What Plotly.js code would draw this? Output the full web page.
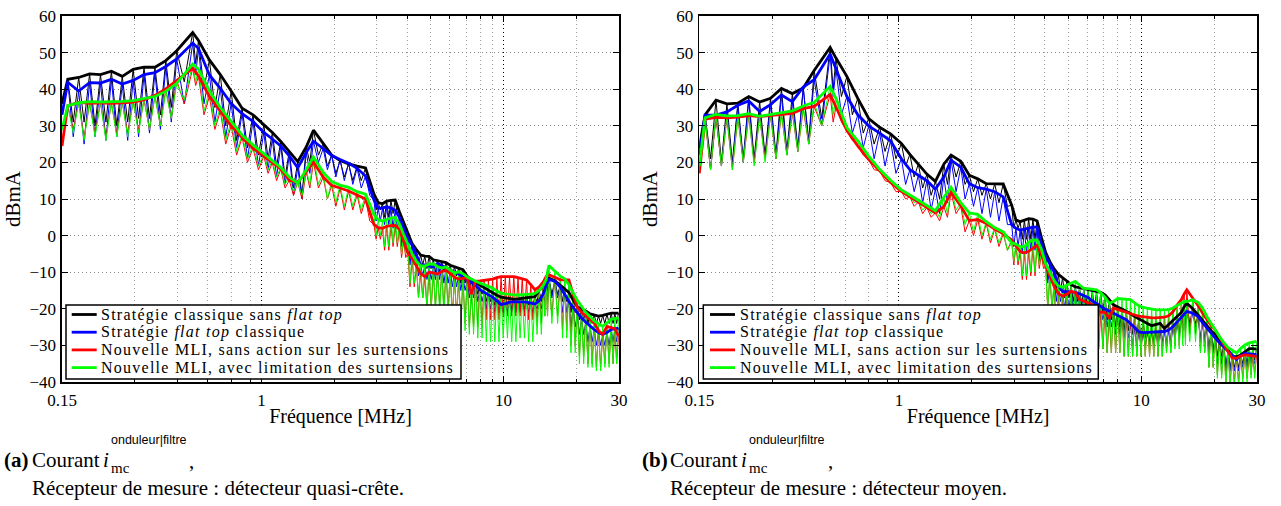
<!DOCTYPE html>
<html>
<head>
<meta charset="utf-8">
<script src="https://cdn.plot.ly/plotly-3.0.1.min.js"></script>
<style>html,body{margin:0;padding:0;background:#fff;}#chart{width:1281px;height:506px;}</style>
</head>
<body>
<div id="chart"></div>
<script>
// ---------- Frequencies (MHz) of comb maxima and minima (shared receiver sweep) ----------
const FREQ_PEAK = [0.1585,0.1758,0.195,0.2163,0.2399,0.2661,0.2951,0.3273,0.3631,0.4027,
  0.4467,0.52,0.5495,0.6095,0.6761,0.7499,0.8318,0.9226,1.023,1.109,
  1.202,1.303,1.413,1.531,1.64,1.799,1.95,2.113,2.291,2.483,2.692,
  2.917,3.037,3.162,3.292,3.428,3.569,3.715,3.868,4.027,4.193,4.365,4.545,4.732,4.926,5.129,5.339,5.559,5.788,6.026,
  6.273,6.531,6.8,7.079,7.371,7.674,7.989,8.318,8.66,9.016,9.387,9.772,10.17,10.59,11.03,11.48,11.95,12.45,12.96,13.49,
  14.04,14.62,15.0,15.4,16.3,17.18,17.89,18.62,19.39,20.18,21.01,21.88,22.78,23.71,24.69,25.7,26.76,27.86,28.84,29.85];
const FREQ_DIP = [0.15,0.1669,0.1851,0.2054,0.2278,0.2526,0.2802,0.3108,0.3447,0.3825,
  0.4242,0.48,0.535,0.5788,0.6421,0.712,0.7898,0.876,0.9716,1.065,
  1.155,1.252,1.357,1.471,1.585,1.72,1.873,2.03,2.2,2.385,2.585,2.802,
  2.976,3.099,3.226,3.359,3.498,3.641,3.791,3.947,4.109,4.278,4.454,4.638,4.828,5.027,5.233,5.448,5.672,5.906,
  6.148,6.401,6.664,6.938,7.224,7.521,7.83,8.152,8.488,8.836,9.2,9.577,9.969,10.38,10.81,11.25,11.71,12.2,12.7,13.22,
  13.76,14.33,14.81,15.2,15.84,16.73,17.53,18.25,19.0,19.78,20.59,21.44,22.33,23.24,24.19,25.19,26.22,27.3,28.35,29.34];

// ---------- (a) quasi-peak detector, dBmA (comb maxima / minima) ----------
const A_BLACK_PEAK = [42.7,43.2,44.2,44.0,44.9,43.5,45.4,46.0,46.0,47.8,50.5,55.5,53.3,48.0,44.0,39.5,34.8,33.0,30.3,28.2,25.7,23.1,20.2,24.2,28.8,25.2,22.0,20.5,19.6,19.0,18.5,
  11.3,9.0,8.7,9.4,9.6,9.7,6.5,3.5,0.8,-2.2,-3.8,-5.3,-5.6,-5.7,-6.6,-6.8,-7.0,-7.4,-8.1,-8.5,-8.8,-9.3,-11.1,-12.1,-12.8,-13.5,-14.3,-15.0,-15.7,-16.3,
  -16.8,-17.0,-17.2,-17.4,-17.3,-17.2,-17.1,-16.9,-16.7,-15.0,-13.5,-12.0,-11.6,-12.3,-13.5,-14.4,-15.5,-17.6,-19.4,-20.1,-20.6,-21.4,-21.7,-22.0,-21.8,-21.4,-21.2,-21.2,-21.2];
const A_BLACK_DIP = [36,31,31,30,31,30,31,32,32,33,35,42,47,40,35,30,26,24,22,21,19,16,13,11,20,22,19,17,16,15,15,13,
  7,7,5,5,6,6,-2,-2,-6,-6,-8,-8,-9,-9,-10,-10,-10,-10,-11,-11,-13,-13,-15,-15,-16,-16,-18,-18,
  -19,-19,-19,-19,-20,-20,-20,-20,-19,-19,-18,-18,-15,-15,-16,-16,-18,-18,-21,-21,-23,-23,-24,-24,-24,-24,-24,-24,-24,-24];
const A_BLUE_PEAK = [41.9,39.5,41.8,41.7,42.7,41.4,42.4,44.0,44.5,46.2,48.3,52.6,51.1,43.9,40.2,36.1,33.3,31.2,28.2,26.4,24.5,21.8,18.5,22.7,25.8,23.8,21.9,20.8,19.8,18.4,16.3,
  9.7,7.5,7.5,7.9,7.5,7.0,5.0,2.0,-0.8,-2.6,-5.2,-8.0,-8.0,-8.4,-8.6,-7.6,-8.1,-8.8,-9.4,-9.9,-10.5,-11.2,-12.2,-12.8,-13.6,-14.8,-15.6,-16.2,-16.8,-17.8,
  -18.8,-18.6,-18.2,-18.1,-18.0,-18.1,-18.2,-18.4,-18.7,-17.8,-15.9,-13.5,-12.0,-12.5,-14.1,-16.0,-18.0,-19.6,-21.2,-22.5,-23.7,-24.8,-25.7,-26.5,-27.0,-26.5,-25.6,-25.5,-25.3];
const A_BLUE_DIP = [33,27,25,27,26,27,26,27,28,29,31,36,44,36,31,27,24,21,19,18,16,14,11,10,17,20,18,16,15,14,13,11,
  4,4,3,3,2,2,-3,-3,-8,-8,-11,-11,-12,-12,-12,-12,-13,-13,-14,-14,-15,-15,-17,-17,-18,-18,-20,-20,
  -21,-21,-21,-21,-21,-21,-21,-21,-21,-21,-20,-20,-18,-18,-17,-17,-21,-21,-25,-25,-27,-27,-29,-29,-30,-30,-30,-30,-29,-29];
const A_RED_PEAK = [35.5,36.4,36.1,36.3,36.1,36.3,36.5,37.1,38.3,40.1,42.4,45.7,43.6,38.0,34.0,30.0,26.8,23.9,21.7,19.9,18.2,15.1,14.6,17.4,20.1,16.0,13.7,13.0,12.2,11.1,10.0,
  3.0,2.2,2.0,2.5,2.7,2.8,1.7,-1.5,-4.8,-6.2,-8.3,-10.4,-11.2,-10.0,-10.2,-10.5,-9.8,-9.5,-10.4,-11.4,-11.9,-11.7,-11.5,-16.0,-12.5,-12.4,-12.3,-12.1,-11.9,-11.5,
  -11.2,-11.2,-11.2,-11.2,-11.5,-11.8,-12.1,-13.4,-14.8,-14.0,-12.6,-11.2,-10.7,-11.4,-12.1,-12.1,-12.1,-16.0,-19.6,-21.0,-22.0,-22.8,-23.8,-26.0,-27.0,-24.8,-25.1,-25.4,-27.5];
const A_RED_DIP = [24.5,29,27,28,27,28,28,29,29,30,32,36,41,33,29,25,22,20,18,17,15,13,11,10,13,13,10,8,7,7,6,4,
  -1,-1,-4,-4,-3,-3,-6,-6,-14,-14,-17,-17,-20,-20,-19,-19,-20,-20,-22,-22,-24,-24,-25,-25,-25,-25,-23,-23,
  -23,-23,-22,-22,-22,-22,-22,-22,-23,-23,-24,-24,-22,-22,-22,-22,-26,-26,-30,-30,-33,-33,-35,-35,-36,-36,-35,-35,-35,-35];
const A_GREEN_PEAK = [35.5,36.3,36.6,36.5,36.5,36.7,36.9,37.5,38.0,39.4,41.6,46.9,45.5,39.6,35.0,31.2,27.5,24.8,22.4,20.5,18.6,16.0,14.3,18.0,21.5,17.3,14.8,13.8,13.2,12.0,11.3,
  5.8,4.3,4.0,4.5,4.8,5.0,3.2,0.3,-2.6,-5.0,-7.0,-8.3,-8.3,-7.8,-7.7,-8.5,-8.8,-8.6,-9.4,-10.2,-9.9,-10.4,-11.3,-11.9,-12.4,-13.0,-13.4,-13.8,-14.3,-15.1,
  -15.7,-15.9,-16.1,-16.2,-16.2,-16.2,-16.2,-16.0,-15.8,-15.0,-13.5,-12.0,-8.2,-9.7,-11.1,-11.8,-13.4,-15.6,-17.7,-19.3,-21.0,-22.1,-23.3,-24.1,-24.8,-23.8,-22.9,-22.7,-22.5];
const A_GREEN_DIP = [29,28,26,27,26,27,27,28,29,30,32,37,42,34,30,26,23,21,19,18,16,14,12,11,14,14,10,9,8,8,7,6,
  0,0,-3,-3,-2,-2,-5,-5,-13,-13,-17,-17,-20,-20,-21,-21,-22,-22,-24,-24,-26,-26,-27,-27,-28,-28,-29,-29,
  -29,-29,-28,-28,-29,-29,-28,-28,-29,-29,-27,-27,-22,-22,-24,-24,-28,-28,-32,-32,-35,-35,-36,-36,-37,-37,-36,-36,-35,-35];

// ---------- (b) average detector, dBmA (comb maxima / minima) ----------
const B_BLACK_PEAK = [33.0,37.0,36.0,36.2,38.0,36.5,37.5,40.2,38.8,40.3,45.1,51.4,48.5,43.5,37.5,32.0,29.6,27.8,25.2,22.2,19.6,16.8,14.8,19.5,22.0,20.3,16.5,15.5,14.2,14.1,14.1,
  8.3,4.3,3.8,4.2,4.6,4.5,4.0,-0.5,-4.6,-7.1,-9.1,-10.6,-11.4,-12.4,-13.4,-14.0,-14.2,-14.5,-14.7,-14.9,-15.2,-15.5,-16.2,-17.5,-18.9,-19.5,-20.1,-20.6,-21.3,-22.1,
  -22.8,-23.4,-24.0,-24.6,-24.4,-24.0,-25.4,-24.3,-23.1,-22.0,-21.0,-19.5,-18.5,-20.0,-21.8,-23.3,-24.8,-26.0,-27.1,-28.4,-29.8,-31.2,-33.1,-33.1,-32.6,-31.8,-30.9,-30.9,-31.0];
const B_BLACK_DIP = [24,21,20,20,21,21,22,22,23,24,26,32,40,38,33,28,25,23,21,19,16,13,11,10,14,16,14,12,11,10,9,8,
  2,2,-1,-1,-1,-1,-6,-6,-12,-12,-15,-15,-17,-17,-18,-18,-19,-19,-20,-20,-21,-21,-23,-23,-25,-25,-26,-26,
  -27,-27,-28,-28,-29,-29,-29,-29,-29,-29,-27,-27,-24,-24,-24,-24,-28,-28,-31,-31,-33,-33,-36,-36,-36,-36,-35,-35,-34,-34];
const B_BLUE_PEAK = [32.9,32.9,33.8,35.6,36.8,33.9,35.8,38.4,36.6,40.6,42.6,49.6,45.5,38.0,33.0,30.0,28.0,25.9,21.0,18.0,16.5,15.0,12.7,16.0,20.6,18.7,14.2,13.1,12.7,12.0,10.6,
  3.0,2.0,1.5,1.8,2.1,2.3,2.3,-2.2,-5.6,-7.9,-9.9,-13.7,-15.3,-15.3,-15.3,-15.5,-15.9,-16.3,-16.9,-17.8,-18.6,-19.5,-20.1,-20.6,-21.2,-21.8,-22.4,-23.0,-24.0,-25.1,
  -26.3,-26.5,-26.4,-26.3,-26.2,-26.2,-26.2,-25.8,-24.9,-23.6,-22.4,-21.5,-20.7,-21.2,-22.2,-23.8,-25.3,-26.6,-28.0,-29.3,-30.4,-31.6,-32.7,-33.8,-32.8,-32.2,-32.3,-32.4,-32.5];
const B_BLUE_DIP = [22,18,19,19,20,20,21,21,22,23,25,30,38,33,28,24,21,19,17,14,12,9,7,6,9,12,10,8,6,5,4,3,
  -3,-3,-5,-5,-4,-4,-7,-7,-13,-13,-18,-18,-20,-20,-20,-20,-21,-21,-22,-22,-23,-23,-25,-25,-27,-27,-28,-28,
  -30,-30,-30,-30,-30,-30,-30,-30,-30,-30,-28,-28,-26,-26,-25,-25,-29,-29,-32,-32,-35,-35,-37,-37,-37,-37,-36,-36,-35,-35];
const B_RED_PEAK = [31.8,32.3,32.2,32.4,32.8,32.5,32.8,33.2,33.4,34.7,35.3,38.6,35.2,28.7,24.5,20.8,17.7,14.5,12.1,10.6,9.2,7.7,6.2,7.9,11.8,8.1,4.1,4.4,3.3,1.8,0.5,
  -1.2,-2.8,-4.4,-4.7,-4.3,-3.4,-2.6,-5.2,-8.1,-11.0,-13.9,-15.9,-16.5,-16.0,-15.2,-15.6,-17.4,-17.9,-18.3,-18.9,-20.1,-21.0,-21.0,-22.5,-19.8,-20.2,-20.7,-21.1,-21.4,-21.7,
  -22.0,-22.2,-22.3,-22.5,-22.5,-22.5,-22.3,-21.9,-20.8,-19.0,-17.5,-16.0,-14.8,-17.1,-19.2,-21.2,-23.0,-24.5,-25.8,-27.6,-29.7,-31.7,-33.5,-33.5,-32.9,-32.6,-32.7,-32.8,-33.0];
const B_RED_DIP = [17,18,19,18,20,20,21,21,22,23,25,30,31,31,26,22,18,15,12,10,8,6,5,4,5,6,1,0,-1,-2,-3,-4,
  -8,-8,-12,-12,-11,-11,-9,-9,-20,-20,-26,-26,-28,-28,-28,-28,-29,-29,-30,-30,-31,-31,-32,-32,-32,-32,-33,-33,
  -33,-33,-33,-33,-33,-33,-33,-33,-32,-32,-30,-30,-28,-28,-27,-27,-32,-32,-36,-36,-38,-38,-40,-40,-40,-40,-39,-39,-38,-38];
const B_GREEN_PEAK = [32.2,33.1,32.7,32.8,33.3,32.6,33.1,33.6,34.1,35.4,36.4,40.8,37.5,29.5,25.9,21.7,18.1,15.1,12.5,11.1,9.6,8.2,6.8,10.5,13.2,9.0,6.2,5.8,3.8,2.2,1.0,
  -2.0,-2.3,-3.0,-3.0,-1.8,-1.2,-1.2,-3.7,-7.6,-10.1,-12.3,-13.8,-14.1,-13.5,-13.0,-12.5,-13.5,-14.4,-14.5,-14.7,-14.8,-15.6,-16.8,-18.5,-18.0,-17.2,-17.3,-17.4,-17.5,-18.4,
  -19.2,-19.6,-19.9,-20.2,-20.3,-20.3,-20.3,-20.2,-19.8,-19.1,-18.4,-18.0,-18.0,-17.5,-18.3,-19.8,-22.1,-24.0,-26.0,-27.6,-29.2,-30.6,-31.3,-32.1,-30.8,-29.9,-29.3,-29.0,-28.9];
const B_GREEN_DIP = [19,18,19,18,20,19,20,21,22,23,25,30,33,33,27,23,19,16,13,11,9,7,6,5,6,7,3,1,0,-1,-2,-4,
  -7,-7,-11,-11,-10,-10,-8,-8,-20,-20,-26,-26,-28,-28,-28,-28,-29,-29,-30,-30,-31,-31,-32,-32,-32,-32,-33,-33,
  -33,-33,-33,-33,-33,-33,-33,-33,-32,-32,-31,-31,-30,-30,-29,-29,-32,-32,-36,-36,-39,-39,-41,-41,-41,-41,-40,-40,-39,-39];

// ---------- labels ----------
const SERIES_NAMES = ['Stratégie classique sans <i>flat top</i>','Stratégie <i>flat top</i> classique',
  'Nouvelle MLI, sans action sur les surtensions','Nouvelle MLI, avec limitation des surtensions'];
const SERIES_COLORS = ['#000000','#0000ff','#ff0000','#00ff00'];
const X_TICKVALS = [0.15,1,10,30];
const X_TICKTEXT = ['0.15','1','10','30'];
const X_MINOR = [0.3,0.45,0.6,0.75,0.9,2,3,4,5,6,7,8,9,20];
const X_TITLE = 'Fréquence [MHz]';
const Y_TITLE = 'dBmA';
const CAPTION_TAG = ['(a)','(b)'];
const CAPTION_WORD = 'Courant';
const CAPTION_SUP = 'onduleur|filtre';
const CAPTION_SUB = 'mc';
const CAPTION_L2 = ['Récepteur de mesure : détecteur quasi-crête.','Récepteur de mesure : détecteur moyen.'];

// ---------- geometry ----------
const W = 1281, H = 506, M = {l:62, r:24, t:16, b:124};
const PW = W - M.l - M.r, PH = H - M.t - M.b;
const PX = v => (v - M.l) / PW;
const PY = v => (H - M.b - v) / PH;
const SERIF = 'Liberation Serif';
const spaced = (t, ls) => '<span style="letter-spacing:' + ls + 'px">' + t + '</span>';

const PLOTS = [
  {xa:'x', ya:'y', peaks:[A_BLACK_PEAK,A_BLUE_PEAK,A_RED_PEAK,A_GREEN_PEAK], dips:[A_BLACK_DIP,A_BLUE_DIP,A_RED_DIP,A_GREEN_DIP]},
  {xa:'x2', ya:'y2', peaks:[B_BLACK_PEAK,B_BLUE_PEAK,B_RED_PEAK,B_GREEN_PEAK], dips:[B_BLACK_DIP,B_BLUE_DIP,B_RED_DIP,B_GREEN_DIP]}
];

const traces = [];
PLOTS.forEach(p => {
  for (let s = 0; s < 4; s++) {          // raw comb (thin)
    const x = [], y = [];
    for (let i = 0; i < FREQ_PEAK.length; i++) {
      x.push(FREQ_DIP[i], FREQ_PEAK[i]);
      y.push(p.dips[s][i], p.peaks[s][i]);
    }
    traces.push({type:'scatter', mode:'lines', x, y, xaxis:p.xa, yaxis:p.ya,
      line:{color:SERIES_COLORS[s], width:1}, name:SERIES_NAMES[s], showlegend:false, hoverinfo:'skip'});
  }
  for (let s = 0; s < 4; s++) {          // envelope (thick)
    traces.push({type:'scatter', mode:'lines', x:[FREQ_DIP[0]].concat(FREQ_PEAK), y:[p.dips[s][0]].concat(p.peaks[s]),
      xaxis:p.xa, yaxis:p.ya, line:{color:SERIES_COLORS[s], width:2.8}, name:SERIES_NAMES[s], showlegend:false});
  }
});

const tickfont = {family:SERIF, size:17, color:'#000'};
function xAxis(domain, anchor) {
  return {type:'log', domain, anchor, range:[Math.log10(0.15), Math.log10(30)],
    tickmode:'array', tickvals:X_TICKVALS, ticktext:X_TICKTEXT,
    ticks:'inside', ticklen:6, tickwidth:1, tickcolor:'#000', ticklabelstandoff:2,
    showline:true, linecolor:'#000', linewidth:1.6, mirror:'allticks',
    showgrid:true, gridcolor:'#000', gridwidth:1, griddash:'1px,3px',
    minor:{tickmode:'array', tickvals:X_MINOR, ticks:'inside', ticklen:3, tickwidth:1, tickcolor:'#000',
      showgrid:true, gridcolor:'#a0a0a0', gridwidth:1, griddash:'1px,3px'},
    zeroline:false, tickfont, automargin:false, fixedrange:true,
    title:{text:X_TITLE, font:{family:SERIF, size:20, color:'#000'}, standoff:0}};
}
function yAxis(anchor) {
  return {domain:[0,1], anchor, range:[-40,60], tickmode:'linear', tick0:0, dtick:10,
    ticks:'inside', ticklen:6, tickwidth:1, tickcolor:'#000', ticklabelstandoff:1,
    showline:true, linecolor:'#000', linewidth:1.6, mirror:'allticks',
    showgrid:true, gridcolor:'#888888', gridwidth:1, griddash:'1px,3px',
    zeroline:false, tickfont, automargin:false, fixedrange:true,
    title:{text:Y_TITLE, font:{family:SERIF, size:21, color:'#000'}, standoff:3}};
}

// ---------- legend boxes (one per panel) ----------
const LEG = [{x0:66, x1:461, lx0:71.7, lx1:96.7, tx:99}, {x0:703.3, x1:1098.3, lx0:710, lx1:735, tx:737.5}];
const LEG_TOP = 305, LEG_BOT = 379, LEG_ROWS = [314.5, 332.2, 349.9, 367.6];
const shapes = [], annotations = [];
LEG.forEach(L => {
  shapes.push({type:'rect', xref:'paper', yref:'paper', x0:PX(L.x0), x1:PX(L.x1), y0:PY(LEG_BOT), y1:PY(LEG_TOP),
    line:{color:'#000', width:1.5}, fillcolor:'#fff', layer:'above'});
  LEG_ROWS.forEach((r, s) => {
    shapes.push({type:'line', xref:'paper', yref:'paper', x0:PX(L.lx0), x1:PX(L.lx1), y0:PY(r), y1:PY(r),
      line:{color:SERIES_COLORS[s], width:2.8}, layer:'above'});
    annotations.push({xref:'paper', yref:'paper', x:PX(L.tx), y:PY(r), xanchor:'left', yanchor:'middle',
      text:spaced(SERIES_NAMES[s], 1.25), showarrow:false, font:{family:SERIF, size:16, color:'#000'}});
  });
});

// ---------- captions ----------
const CAP = [{tag:3, word:31, i:102, s:110, c:188, l2:31}, {tag:641, word:669, i:740, s:748, c:827, l2:669}];
const capFont = {family:SERIF, size:21, color:'#000'};
function ann(x, y, text, font) {
  annotations.push({xref:'paper', yref:'paper', x:PX(x), y:PY(y), xanchor:'left', yanchor:'middle',
    showarrow:false, text, font, borderpad:0});
}
CAP.forEach((c, k) => {
  ann(c.tag, 460, '<b>' + CAPTION_TAG[k] + '</b>', capFont);
  ann(c.word, 460, CAPTION_WORD, capFont);
  ann(c.i, 460, '<i>i</i>', capFont);
  ann(c.s, 440, CAPTION_SUP, {family:'Liberation Sans', size:12.5, color:'#000'});
  ann(c.s, 468, CAPTION_SUB, {family:SERIF, size:15, color:'#000'});
  ann(c.c, 461, ',', capFont);
  ann(c.l2, 488, CAPTION_L2[k], capFont);
});

const layout = {
  width:W, height:H, margin:M, paper_bgcolor:'#fff', plot_bgcolor:'#fff', showlegend:false,
  xaxis:xAxis([0, (619 - M.l) / PW], 'y'),
  xaxis2:xAxis([(699.3 - M.l) / PW, 1], 'y2'),
  yaxis:yAxis('x'), yaxis2:yAxis('x2'),
  shapes, annotations
};
Plotly.newPlot('chart', traces, layout, {staticPlot:true, displayModeBar:false});
</script>
</body>
</html>
